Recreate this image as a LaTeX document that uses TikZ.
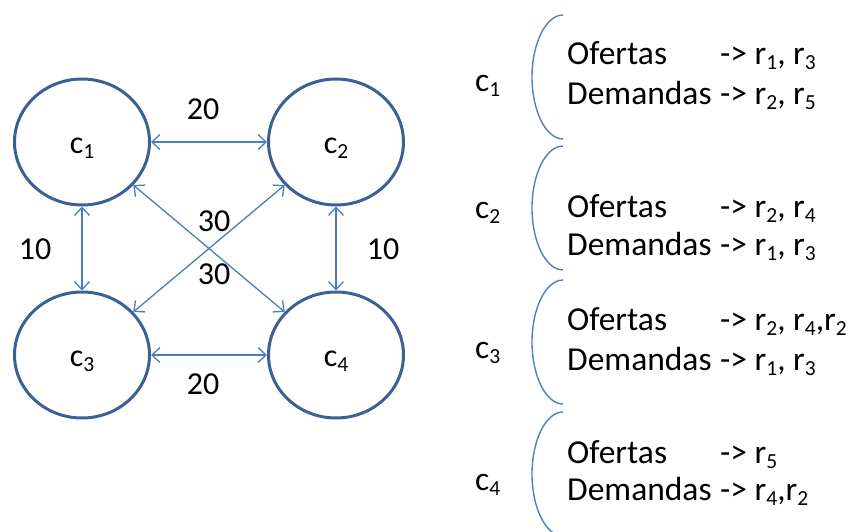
\documentclass[tikz,border=0pt]{standalone}
\usepackage{fontspec}
\setmainfont{Carlito}
\usetikzlibrary{shapes.geometric,arrows.meta}
\definecolor{ringblue}{HTML}{3B6096}
\definecolor{linkblue}{HTML}{4A7EBB}
\definecolor{braceblue}{HTML}{4F81BD}
% lowered, smaller index digit
\newcommand{\ix}[1]{\raisebox{-5pt}{\fontsize{21.5}{21.5}\selectfont #1}}
\begin{document}
\begin{tikzpicture}[x=1pt,y=-1pt,
  every node/.style={font=\fontsize{32}{38}\selectfont, inner sep=0pt},
  station/.style={ellipse, draw=ringblue, line width=3pt,
                  minimum width=135pt, minimum height=126pt},
  link/.style={draw=linkblue, line width=1.3pt,
               {Straight Barb[length=8pt,width=15pt]}-{Straight Barb[length=8pt,width=15pt]}},
  weight/.style={anchor=base},
  brace/.style={draw=braceblue, line width=1.4pt},
  rowtxt/.style={anchor=base west, font=\fontsize{33.5}{38}\selectfont}]
\useasboundingbox (0,0) rectangle (848,532);

% the four stations
\node[station] (c1) at (82,142) {};
\node[station] (c2) at (336,142) {};
\node[station] (c3) at (82,355) {};
\node[station] (c4) at (336,355) {};
\node[anchor=base] (l1) at ([yshift=-11.5pt]c1.center) {c\ix{1}};
\node[anchor=base] (l2) at ([yshift=-11.5pt]c2.center) {c\ix{2}};
\node[anchor=base] (l3) at ([yshift=-11.5pt]c3.center) {c\ix{3}};
\node[anchor=base] (l4) at ([yshift=-11.5pt]c4.center) {c\ix{4}};

% links between stations
\draw[link] (c1) -- (c2);
\draw[link] (c3) -- (c4);
\draw[link] (c1) -- (c3);
\draw[link] (c2) -- (c4);
\draw[link] (c1) -- (c4);
\draw[link] (c3) -- (c2);

% link weights
\node[weight] (w12) at (203,120) {20};
\node[weight] (w34) at (203,394) {20};
\node[weight] (w13) at (35,259) {10};
\node[weight] (w24) at (383,259) {10};
\node[weight] (w23) at (214,231) {30};
\node[weight] (w14) at (214,284) {30};

% offers and demands per station
\node[rowtxt] (k1) at (475,92) {c\ix{1}};
\node[rowtxt] (k2) at (475,218) {c\ix{2}};
\node[rowtxt] (k3) at (475,358) {c\ix{3}};
\node[rowtxt] (k4) at (475,490) {c\ix{4}};

\foreach \t in {15,146,280,412}{
  \draw[brace] (563,\t) .. controls (546,\t) and (532,\t+28) .. (532,\t+62)
                        .. controls (532,\t+96) and (546,\t+124) .. (563,\t+124);
}

\node[rowtxt] (o1) at (567,65) {Ofertas};
\node[rowtxt] (oa1) at (720,65) {-> r\ix{1}, r\ix{3}};
\node[rowtxt] (d1) at (567,105) {Demandas};
\node[rowtxt] (da1) at (720,105) {-> r\ix{2}, r\ix{5}};

\node[rowtxt] (o2) at (567,217) {Ofertas};
\node[rowtxt] (oa2) at (720,217) {-> r\ix{2}, r\ix{4}};
\node[rowtxt] (d2) at (567,255) {Demandas};
\node[rowtxt] (da2) at (720,255) {-> r\ix{1}, r\ix{3}};

\node[rowtxt] (o3) at (567,330) {Ofertas};
\node[rowtxt] (oa3) at (720,330) {-> r\ix{2}, r\ix{4},r\ix{2}};
\node[rowtxt] (d3) at (567,370) {Demandas};
\node[rowtxt] (da3) at (720,370) {-> r\ix{1}, r\ix{3}};

\node[rowtxt] (o4) at (567,463) {Ofertas};
\node[rowtxt] (oa4) at (720,463) {-> r\ix{5}};
\node[rowtxt] (d4) at (567,500) {Demandas};
\node[rowtxt] (da4) at (720,500) {-> r\ix{4},r\ix{2}};
\end{tikzpicture}
\end{document}
